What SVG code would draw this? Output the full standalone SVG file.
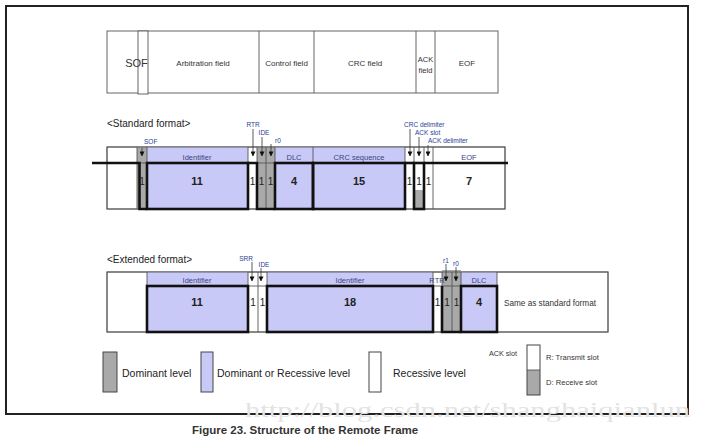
<svg xmlns="http://www.w3.org/2000/svg" width="708" height="443" viewBox="0 0 708 443">
<defs>
<style>
.frame{fill:none;stroke:#222;stroke-width:2}
.box{fill:#fff;stroke:#555;stroke-width:0.9}
.thin{fill:none;stroke:#555;stroke-width:0.9}
.thick{fill:none;stroke:#111;stroke-width:2.6}
.lav{fill:#c9c9f7}
.gray{fill:#a9a9a9}
.wht{fill:#fff}
.ptr{fill:none;stroke:#333;stroke-width:0.8}
text{font-family:"Liberation Sans",Arial,sans-serif;fill:#333}
.t8{font-size:8px}
.t7{font-size:7.5px}
.lbl{font-size:6.5px;fill:#2b3d96}
.strip{font-size:7.5px;fill:#3b4480}
.num{font-size:11px;font-weight:bold;fill:#222}
.one{font-size:10px;fill:#222}
.leg{font-size:10.5px;fill:#222}
.head{font-size:10px;fill:#222}
</style>
<marker id="ah" viewBox="0 0 6 6" refX="5.5" refY="3" markerWidth="5" markerHeight="5" orient="auto" markerUnits="userSpaceOnUse">
<path d="M0,0 L6,3 L0,6 Z" fill="#111"/>
</marker>
</defs>
<rect width="708" height="443" fill="#fff"/>
<rect id="outer-frame" class="frame" x="6" y="6" width="682" height="408"/>

<g id="top-row">
<rect class="box" x="107" y="31" width="391" height="62"/>
<rect class="box" x="138" y="31" width="10" height="63"/>
<line class="thin" x1="259" y1="31" x2="259" y2="93"/>
<line class="thin" x1="314" y1="31" x2="314" y2="93"/>
<line class="thin" x1="416" y1="31" x2="416" y2="93"/>
<line class="thin" x1="435" y1="31" x2="435" y2="93"/>
<text x="136.5" y="67" font-size="11" text-anchor="middle">SOF</text>
<text class="t8" x="203" y="66" text-anchor="middle">Arbitration field</text>
<text class="t8" x="286.5" y="66" text-anchor="middle">Control field</text>
<text class="t8" x="365" y="66" text-anchor="middle">CRC field</text>
<text class="t7" x="425.5" y="62" text-anchor="middle">ACK</text>
<text class="t7" x="425.5" y="73" text-anchor="middle">field</text>
<text class="t8" x="467" y="66" text-anchor="middle">EOF</text>
</g>

<g id="standard-format">
<text class="head" x="107" y="127">&lt;Standard format&gt;</text>
<rect class="box" x="107" y="147" width="398" height="62"/>
<rect class="gray" x="137" y="147" width="10" height="62"/>
<rect class="lav" x="147" y="147" width="101" height="62"/>
<rect class="gray" x="257" y="147" width="18" height="62"/>
<rect class="lav" x="275" y="147" width="38" height="62"/>
<rect class="lav" x="313" y="147" width="92" height="62"/>
<rect class="gray" x="414" y="190" width="10" height="19"/>
<rect class="thin" x="107" y="147" width="398" height="62"/>
<path class="thin" d="M137,147V209M147,147V209M248,147V209M257,147V209M266,147V209M275,147V209M313,147V209M405,147V209M414,147V209M424,147V209M433,147V209M137,163H505"/>
<path class="thick" d="M92,163H139.5V209H147"/>
<rect class="thick" x="147" y="163" width="101" height="46"/>
<path class="thick" d="M248,163H257V209H275"/>
<rect class="thick" x="275" y="163" width="38" height="46"/>
<rect class="thick" x="313" y="163" width="92" height="46"/>
<path class="thick" d="M405,163H414"/>
<rect class="thick" x="414" y="163" width="10" height="46"/>
<path class="thick" d="M424,163H508"/>
<text class="strip" x="197" y="160" text-anchor="middle">Identifier</text>
<text class="strip" x="294" y="160" text-anchor="middle">DLC</text>
<text class="strip" x="359" y="160" text-anchor="middle">CRC sequence</text>
<text class="strip" x="469" y="160" text-anchor="middle">EOF</text>
<text class="one" x="142" y="185" text-anchor="middle">1</text>
<text class="num" x="197" y="185" text-anchor="middle">11</text>
<text class="one" x="252.5" y="185" text-anchor="middle">1</text>
<text class="one" x="261.5" y="185" text-anchor="middle">1</text>
<text class="one" x="270.5" y="185" text-anchor="middle">1</text>
<text class="num" x="294" y="185" text-anchor="middle">4</text>
<text class="num" x="359" y="185" text-anchor="middle">15</text>
<text class="one" x="409.5" y="185" text-anchor="middle">1</text>
<text class="one" x="419" y="185" text-anchor="middle">1</text>
<text class="one" x="428.5" y="185" text-anchor="middle">1</text>
<text class="num" x="469" y="185" text-anchor="middle">7</text>
</g>

<g id="standard-pointers">
<text class="lbl" x="144" y="144">SOF</text>
<line class="ptr" x1="142" y1="148" x2="142" y2="156" marker-end="url(#ah)"/>
<text class="lbl" x="253" y="127" text-anchor="middle">RTR</text>
<line class="ptr" x1="253" y1="129" x2="253" y2="156" marker-end="url(#ah)"/>
<text class="lbl" x="264" y="135" text-anchor="middle">IDE</text>
<line class="ptr" x1="262" y1="137" x2="262" y2="156" marker-end="url(#ah)"/>
<text class="lbl" x="275" y="143">r0</text>
<line class="ptr" x1="271" y1="144" x2="271" y2="156" marker-end="url(#ah)"/>
<text class="lbl" x="404" y="127">CRC delimiter</text>
<line class="ptr" x1="410" y1="129" x2="410" y2="156" marker-end="url(#ah)"/>
<text class="lbl" x="415" y="135">ACK slot</text>
<line class="ptr" x1="419" y1="137" x2="419" y2="156" marker-end="url(#ah)"/>
<text class="lbl" x="428" y="143">ACK delimiter</text>
<line class="ptr" x1="428" y1="145" x2="428" y2="156" marker-end="url(#ah)"/>
</g>

<g id="extended-format">
<text class="head" x="107" y="263">&lt;Extended format&gt;</text>
<rect class="box" x="107" y="272" width="501" height="60"/>
<rect class="lav" x="147" y="272" width="101" height="60"/>
<rect class="lav" x="267" y="272" width="166" height="60"/>
<rect class="gray" x="442" y="270" width="19" height="62"/>
<rect class="lav" x="461" y="272" width="36" height="60"/>
<rect class="thin" x="107" y="272" width="501" height="60"/>
<path class="thin" d="M147,272V332M248,272V332M258,272V332M267,272V332M433,272V332M442,272V332M452,272V332M461,272V332M497,272V332M147,286H497"/>
<rect class="thick" x="147" y="286" width="101" height="46"/>
<rect class="thick" x="267" y="286" width="166" height="46"/>
<path class="thick" d="M442,286V332H461"/>
<rect class="thick" x="461" y="286" width="36" height="46"/>
<text class="strip" x="197" y="283" text-anchor="middle">Identifier</text>
<text class="strip" x="350" y="283" text-anchor="middle">Identifier</text>
<text class="strip" x="437" y="283" text-anchor="middle">RTR</text>
<text class="strip" x="479" y="283" text-anchor="middle">DLC</text>
<text class="num" x="197" y="306" text-anchor="middle">11</text>
<text class="one" x="253" y="306" text-anchor="middle">1</text>
<text class="one" x="262.5" y="306" text-anchor="middle">1</text>
<text class="num" x="350" y="306" text-anchor="middle">18</text>
<text class="one" x="437.5" y="306" text-anchor="middle">1</text>
<text class="one" x="447" y="306" text-anchor="middle">1</text>
<text class="one" x="456.5" y="306" text-anchor="middle">1</text>
<text class="num" x="479" y="306" text-anchor="middle">4</text>
<text x="550" y="306" font-size="8.2" text-anchor="middle" fill="#222">Same as standard format</text>
</g>

<g id="extended-pointers">
<text class="lbl" x="246" y="261" text-anchor="middle">SRR</text>
<line class="ptr" x1="252" y1="262" x2="252" y2="281" marker-end="url(#ah)"/>
<text class="lbl" x="264" y="267" text-anchor="middle">IDE</text>
<line class="ptr" x1="261" y1="268" x2="261" y2="281" marker-end="url(#ah)"/>
<text class="lbl" x="446" y="263" text-anchor="middle">r1</text>
<line class="ptr" x1="446" y1="264" x2="446" y2="281" marker-end="url(#ah)"/>
<text class="lbl" x="456" y="266" text-anchor="middle">r0</text>
<line class="ptr" x1="456" y1="267" x2="456" y2="281" marker-end="url(#ah)"/>
</g>

<g id="legend">
<rect x="103" y="352" width="14" height="40" fill="#a9a9a9" stroke="#444" stroke-width="1"/>
<text class="leg" x="122" y="377">Dominant level</text>
<rect x="201" y="352" width="12" height="40" fill="#c9c9f7" stroke="#444" stroke-width="1"/>
<text class="leg" x="217" y="377">Dominant or Recessive level</text>
<rect x="369" y="352" width="12" height="40" fill="#fff" stroke="#444" stroke-width="1"/>
<text class="leg" x="393" y="377">Recessive level</text>
<text x="489" y="356" font-size="7.2" fill="#2b3d96">ACK slot</text>
<rect x="527" y="370" width="13" height="25" fill="#a9a9a9"/>
<rect x="527" y="345" width="13" height="50" fill="none" stroke="#444" stroke-width="1"/>
<line x1="527" y1="370" x2="540" y2="370" stroke="#444" stroke-width="0.8"/>
<text x="546" y="360" font-size="7.6" fill="#222">R: Transmit slot</text>
<text x="546" y="385" font-size="7.6" fill="#222">D: Receive slot</text>
</g>

<text x="245" y="417" font-size="20" textLength="445" lengthAdjust="spacingAndGlyphs" style="font-family:'Liberation Serif',serif;fill:#e3e3e3">http://blog.csdn.net/shanghaiqianlun</text>
<text x="192" y="434" font-size="11.5" font-weight="bold" fill="#111">Figure 23. Structure of the Remote Frame</text>
</svg>
